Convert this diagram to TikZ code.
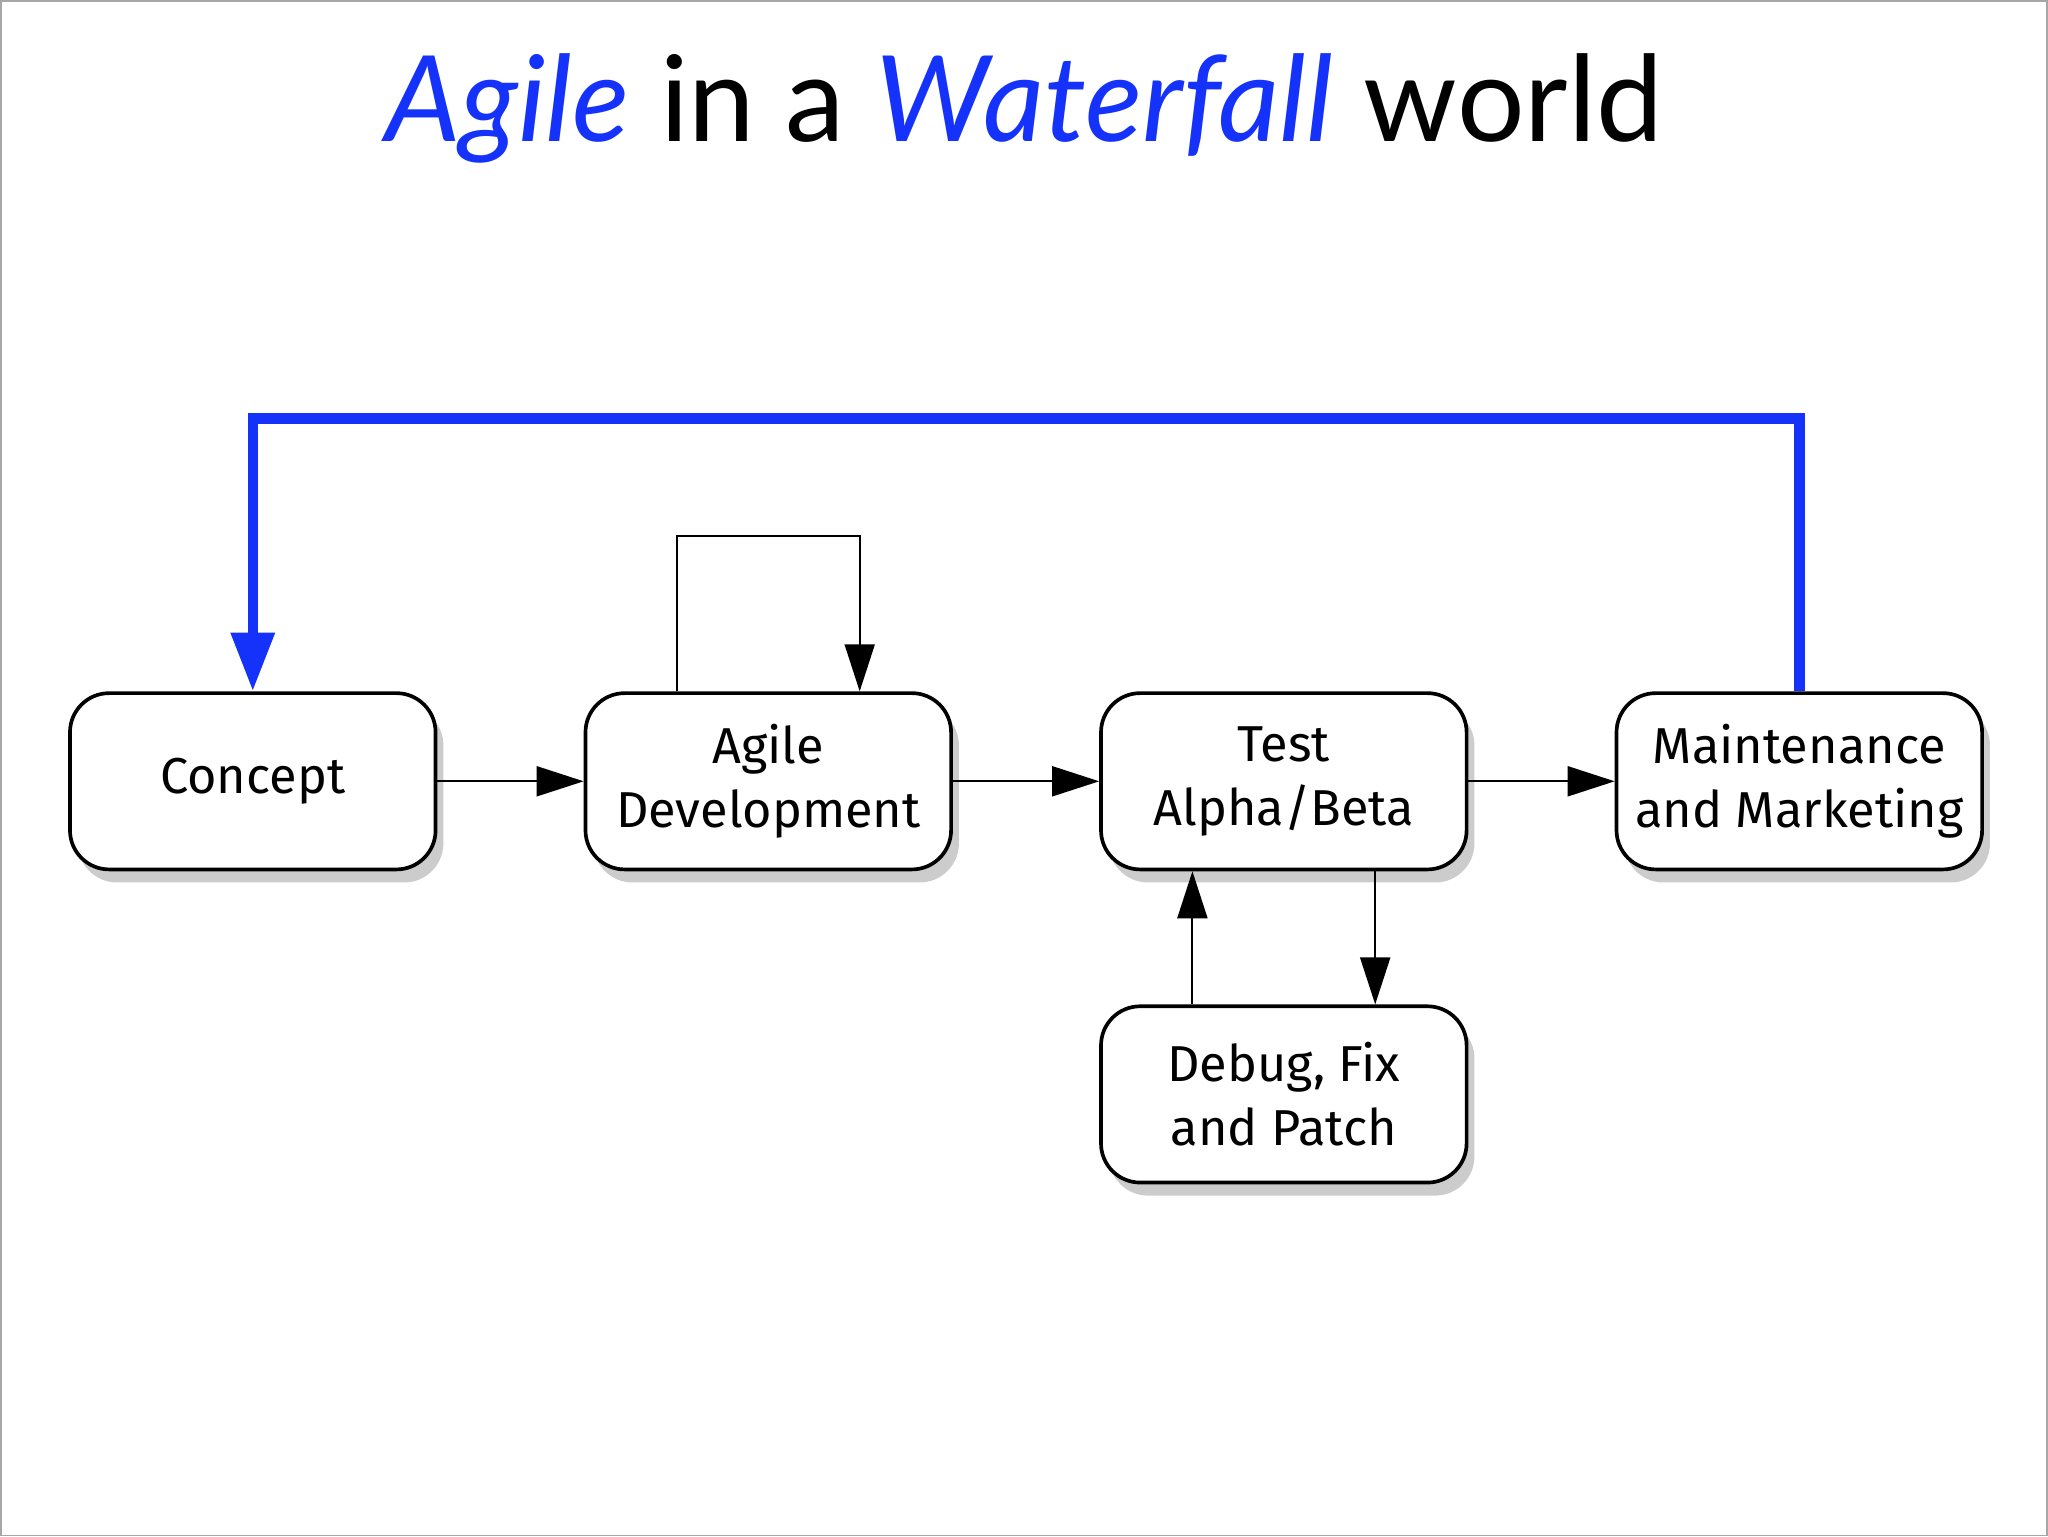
\documentclass[tikz,border=0pt]{standalone}
\usepackage{fontspec}
\setmainfont{Lato}
\newfontfamily\boxfont{Fira Sans}
\usetikzlibrary{positioning,shadows,arrows.meta}
\definecolor{loopblue}{RGB}{20,50,250}
\tikzstyle{arrow} = [->,>={Triangle[length=3.6mm,width=2.3mm]}]
\begin{document}
\begin{tikzpicture}[x=0.01cm,y=-0.01cm,
stepnode/.style={rectangle, rounded corners=3mm, draw=black, thick, fill=white,
  minimum width=2.8cm, minimum height=1.35cm, align=center, font=\boxfont\fontsize{11}{14}\selectfont,
  drop shadow={shadow xshift=0.6mm,shadow yshift=-1mm,opacity=0.4}},]
\draw[gray!70] (0,0) rectangle (1568,1176);
\useasboundingbox (0,0) rectangle (1568,1176);
%Title
\node (title) at (784,82) {\fontsize{26}{31}\selectfont\textcolor{loopblue}{\itshape Agile} in a \textcolor{loopblue}{\itshape Waterfall} world};
%Nodes
\node[stepnode] (concept) at (193,598) {Concept};
\node[stepnode, right=1.12cm of concept] (agile) {Agile\\Development};
\node[stepnode, right=1.12cm of agile] (test) {Test\\Alpha/Beta};
\node[stepnode, right=1.12cm of test] (maint) {Maintenance\\and Marketing};
\node[stepnode, below=1.02cm of test] (debug) {Debug, Fix\\and Patch};
%Lines
\draw[arrow] (concept) -- (agile);
\draw[arrow] (agile) -- (test);
\draw[arrow] (test) -- (maint);
\draw[arrow] ([xshift=0.7cm]test.south) -- ([xshift=0.7cm]debug.north);
\draw[arrow] ([xshift=-0.7cm]debug.north) -- ([xshift=-0.7cm]test.south);
\draw[arrow] ([xshift=-0.7cm]agile.north) -- ++(0,-119) -| ([xshift=0.7cm]agile.north);
\draw[->,>={Triangle[length=4.5mm,width=3.2mm]}, loopblue, line width=0.8mm]
  (maint.north) -- ++(0,-209) -| (concept.north);
\end{tikzpicture}
\end{document}
